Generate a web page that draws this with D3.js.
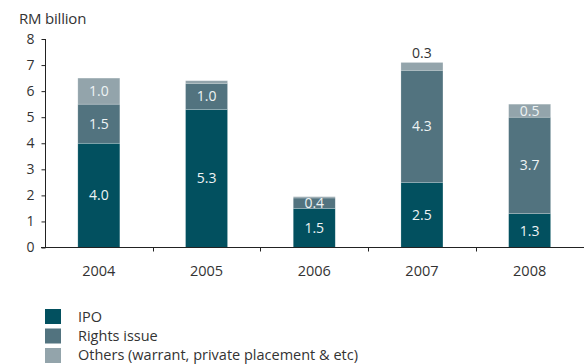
<!DOCTYPE html>
<html>
<head>
<meta charset="utf-8">
<script src="https://cdn.jsdelivr.net/npm/d3@7"></script>
<style>
  html, body { margin: 0; padding: 0; background: #fff; }
  svg { display: block; font-family: "Open Sans", "Noto Sans", sans-serif; }
</style>
</head>
<body>
<svg id="chart" width="584" height="364"></svg>
<script>
// Fund raising in the equity market, RM billion
const years = ["2004", "2005", "2006", "2007", "2008"];
const ipo = [4.0, 5.3, 1.5, 2.5, 1.3];
const rightsIssue = [1.5, 1.0, 0.4, 4.3, 3.7];
const others = [1.0, 0.1, 0.05, 0.3, 0.5];
// labels shown on each segment (null = no label)
const ipoLabels = ["4.0", "5.3", "1.5", "2.5", "1.3"];
const rightsLabels = ["1.5", "1.0", "0.4", "4.3", "3.7"];
const othersLabels = ["1.0", null, null, "0.3", "0.5"];
const yTicks = [0, 1, 2, 3, 4, 5, 6, 7, 8];
const seriesNames = ["IPO", "Rights issue", "Others (warrant, private placement & etc)"];
const colors = ["#02505f", "#52737f", "#93a4ab"];

const svg = d3.select("#chart");
const W = 584, H = 364;
const left = 45;

const x = d3.scaleBand().domain(years).range([left, W - 0.5]).paddingInner(0.61).paddingOuter(0.305);
const y = d3.scaleLinear().domain([0, 8]).range([247.5, 39]);

const rows = years.map((yr, i) => ({ year: yr, ipo: ipo[i], rights: rightsIssue[i], others: others[i] }));
const keys = ["ipo", "rights", "others"];
const labels = { ipo: ipoLabels, rights: rightsLabels, others: othersLabels };
const stack = d3.stack().keys(keys)(rows);

// stacked bars
const g = svg.append("g");
stack.forEach((layer, k) => {
  g.selectAll(null).data(layer).enter().append("rect")
    .attr("x", d => x(d.data.year))
    .attr("width", x.bandwidth())
    .attr("y", d => y(d[1]))
    .attr("height", d => y(d[0]) - y(d[1]))
    .attr("fill", colors[k])
    .attr("stroke", "rgba(255,255,255,0.35)")
    .attr("stroke-width", 0.6);
});

// segment value labels; a thin top segment gets its label above the bar
stack.forEach((layer, k) => {
  const key = keys[k];
  layer.forEach((d, i) => {
    const t = labels[key][i];
    if (!t) return;
    const h = y(d[0]) - y(d[1]);
    const outside = h < 12 && key === "others";
    const cy = outside ? y(d[1]) - 9 : (y(d[0]) + y(d[1])) / 2;
    g.append("text")
      .attr("x", x(d.data.year) + x.bandwidth() / 2)
      .attr("y", cy)
      .attr("dy", "0.36em")
      .attr("text-anchor", "middle")
      .attr("font-size", 14)
      .attr("fill", outside ? "#333" : "#eef3f4")
      .text(t);
  });
});

// y axis
const yAxis = svg.append("g")
  .attr("transform", `translate(${left + 0.5},0)`)
  .call(d3.axisLeft(y).tickValues(yTicks).tickSize(4).tickPadding(7).tickFormat(d3.format("d")));
yAxis.select(".domain").attr("stroke", "#222").attr("d", `M0,${y(8)}V${y(0)}`);
yAxis.selectAll(".tick line").attr("stroke", "#222");
yAxis.selectAll(".tick text").attr("font-size", 14).attr("fill", "#333")
  .attr("font-family", "Open Sans, sans-serif");

// x axis: baseline with ticks at category boundaries
const xg = svg.append("g").attr("transform", `translate(0,${y(0)})`);
xg.append("line").attr("x1", left - 4).attr("x2", W).attr("y1", 0).attr("y2", 0)
  .attr("stroke", "#222");
const step = x.step();
const boundaryX = years.map(yr => x(yr) + x.bandwidth() + (step - x.bandwidth()) / 2);
xg.selectAll(".bt").data(boundaryX).enter().append("line").attr("class", "bt")
  .attr("x1", d => Math.round(d) + 0.5).attr("x2", d => Math.round(d) + 0.5)
  .attr("y1", 0).attr("y2", 4).attr("stroke", "#222");
xg.selectAll(".xl").data(years).enter().append("text").attr("class", "xl")
  .attr("x", d => x(d) + x.bandwidth() / 2)
  .attr("y", 28)
  .attr("text-anchor", "middle")
  .attr("font-size", 14.5)
  .attr("fill", "#333")
  .text(d => d);

// unit label
svg.append("text").attr("x", 19).attr("y", 24).attr("font-size", 15).attr("fill", "#333")
  .attr("letter-spacing", -0.2).text("RM billion");

// legend
const lg = svg.append("g").attr("transform", "translate(45,309)");
seriesNames.forEach((name, i) => {
  lg.append("rect").attr("x", 0).attr("y", i * 19.5).attr("width", 16).attr("height", 15).attr("fill", colors[i]);
  lg.append("text").attr("x", 33).attr("y", i * 19 + 8).attr("dy", "0.36em")
    .attr("font-size", 14.5).attr("fill", "#333").text(name);
});
</script>
</body>
</html>
